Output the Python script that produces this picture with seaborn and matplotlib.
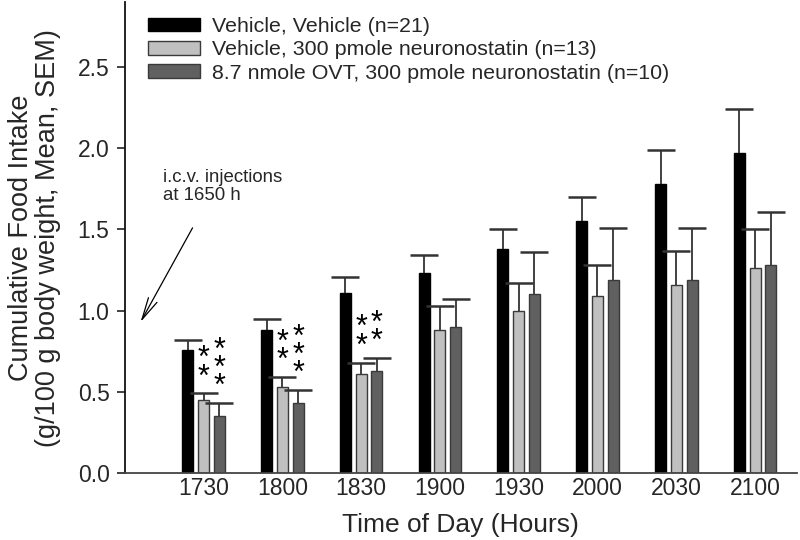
import matplotlib
matplotlib.use("Agg")
import matplotlib.pyplot as plt
import seaborn as sns
import pandas as pd
import numpy as np
from matplotlib.patches import Patch

times = ["1730", "1800", "1830", "1900", "1930", "2000", "2030", "2100"]
groups = ["Vehicle, Vehicle (n=21)",
          "Vehicle, 300 pmole neuronostatin (n=13)",
          "8.7 nmole OVT, 300 pmole neuronostatin (n=10)"]
veh_mean = [0.76, 0.88, 1.11, 1.23, 1.38, 1.55, 1.78, 1.97]
veh_sem = [0.06, 0.07, 0.10, 0.11, 0.12, 0.15, 0.21, 0.27]
nn_mean = [0.45, 0.53, 0.61, 0.88, 1.00, 1.09, 1.16, 1.26]
nn_sem = [0.04, 0.06, 0.07, 0.15, 0.17, 0.19, 0.21, 0.24]
ovt_mean = [0.35, 0.43, 0.63, 0.90, 1.10, 1.19, 1.19, 1.28]
ovt_sem = [0.08, 0.08, 0.08, 0.17, 0.26, 0.32, 0.32, 0.33]
# significance stars: (time index, group index, label)
stars = [(0, 1, "**"), (0, 2, "***"), (1, 1, "**"), (1, 2, "***"),
         (2, 1, "**"), (2, 2, "**")]

colors = ["#000000", "#c0c0c0", "#606060"]
edges = ["#000000", "#3a3a3a", "#3a3a3a"]

means = [veh_mean, nn_mean, ovt_mean]
sems = [veh_sem, nn_sem, ovt_sem]
rows = []
for g, m, s in zip(groups, means, sems):
    for t, mv, sv in zip(times, m, s):
        rows.append({"time": t, "group": g, "mean": mv, "sem": sv})
df = pd.DataFrame(rows)

sns.set_style("white")
plt.rcParams["font.family"] = ["Liberation Sans", "DejaVu Sans"]

fig = plt.figure(figsize=(8, 5.4), dpi=100)
ax = fig.add_axes([0.156, 0.124, 0.84, 0.872])

sns.barplot(data=df, x="time", y="mean", hue="group", order=times,
            hue_order=groups, palette=colors, width=0.6, gap=0.3,
            errorbar=None, legend=False, ax=ax, saturation=1)

bar_containers = list(ax.containers)
for gi, cont in enumerate(bar_containers):
    xs = []
    tops = []
    for p in cont.patches:
        p.set_edgecolor(edges[gi])
        p.set_linewidth(1.0)
        xs.append(p.get_x() + p.get_width() / 2)
        tops.append(p.get_height())
    eb = ax.errorbar(xs, tops, yerr=[np.zeros(len(tops)), sems[gi]],
                     fmt="none", ecolor="#333333", elinewidth=1.3,
                     capsize=10, capthick=1.8, zorder=1)
    caps = eb[1]
    if len(caps) == 2:
        caps[0].set_visible(False)
    for ti, g2, lab in stars:
        if g2 == gi:
            x = xs[ti]
            y = tops[ti] + sems[gi][ti]
            ax.annotate("\n".join(lab), xy=(x, y), xytext=(0, 1),
                        textcoords="offset pixels", ha="center",
                        va="bottom", fontsize=22, linespacing=0.49,
                        color="black")

ax.set_xlim(-1.0, 7.53)
ax.set_ylim(0, 2.9)
ax.set_yticks([0.0, 0.5, 1.0, 1.5, 2.0, 2.5])
ax.set_yticklabels(["0.0", "0.5", "1.0", "1.5", "2.0", "2.5"])
ax.tick_params(axis="y", direction="out", length=6, width=1.2,
               color="#222222", labelsize=16.5, pad=5, left=True)
ax.tick_params(axis="x", length=0, labelsize=16.5, pad=3)
for s in ["top", "right"]:
    ax.spines[s].set_visible(False)
ax.spines["left"].set_color("#111111")
ax.spines["bottom"].set_color("#444444")
for s in ["left", "bottom"]:
    ax.spines[s].set_linewidth(1.3)

ax.set_xlabel("Time of Day (Hours)", fontsize=19, labelpad=9)
ax.set_ylabel("Cumulative Food Intake\n(g/100 g body weight, Mean, SEM)",
              fontsize=19.5, labelpad=12, linespacing=1.05)

handles = [Patch(facecolor=c, edgecolor=e, linewidth=1.0)
           for c, e in zip(colors, edges)]
ax.legend(handles, groups, loc="upper left", bbox_to_anchor=(0.0125, 1.0),
          frameon=False, fontsize=15.4, handlelength=2.4, handleheight=0.6,
          handletextpad=0.6, labelspacing=0.2, borderaxespad=0.3)

ax.annotate("", xy=(-0.80, 0.93), xytext=(-0.14, 1.51),
            arrowprops=dict(arrowstyle="->,head_length=1.6,head_width=0.35",
                            color="black", lw=0.9, shrinkA=0, shrinkB=0))
ax.text(-0.52, 1.87, "i.c.v. injections\nat 1650 h", ha="left", va="top",
        fontsize=13.4, linespacing=1.05)

fig.savefig("out.png", dpi=100)
